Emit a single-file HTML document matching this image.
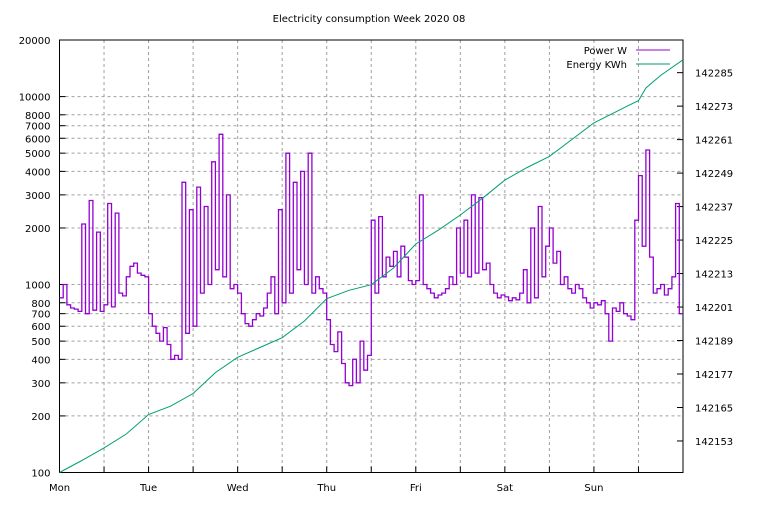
<!DOCTYPE html>
<html><head><meta charset="utf-8">
<style>
html,body{margin:0;padding:0;background:#fff;}
svg text{font-family:"DejaVu Sans","Liberation Sans",sans-serif;font-size:10px;fill:#000;}
</style></head>
<body>
<svg id="chart" width="768" height="500" viewBox="0 0 768 500" xmlns="http://www.w3.org/2000/svg">
<text x="369" y="22" text-anchor="middle">Electricity consumption Week 2020 08</text>
<g id="grid"></g>
<g id="axes"></g>
<g id="series"></g>
<g>
<text x="627" y="54" text-anchor="end">Power W</text>
<line x1="636" y1="50" x2="670" y2="50" stroke="#9400d3" stroke-width="1"/>
<text x="627" y="68" text-anchor="end">Energy KWh</text>
<line x1="636" y1="64" x2="670" y2="64" stroke="#009e73" stroke-width="1"/>
</g>
</svg>
<script>
const dayLabels = ["Mon","Tue","Wed","Thu","Fri","Sat","Sun"];
const leftTicks = [100,200,300,400,500,600,700,800,1000,2000,3000,4000,5000,6000,7000,8000,10000,20000];
const rightTicks = [142153,142165,142177,142189,142201,142213,142225,142237,142249,142261,142273,142285];
// hourly power (W), 7 days x 24
const powerW = [
850,1000,780,750,740,720,2100,700,2800,730,1900,720,780,2700,760,2400,900,870,1100,1250,1300,1150,1120,1100,
700,600,550,500,590,480,400,420,400,3500,550,2500,600,3300,900,2600,1000,4500,1200,6300,1100,3000,950,1000,
900,700,620,600,650,700,680,750,900,1100,700,2500,800,5000,900,3500,1200,4000,1000,5000,900,1100,950,900,
650,480,440,560,380,300,290,400,300,500,350,420,2200,900,2300,1100,1400,1250,1500,1100,1600,1400,1050,1000,
1050,3000,1000,950,900,850,880,900,950,1100,1000,2000,1150,2200,1100,3000,1150,2900,1200,1300,1000,900,850,880,
860,820,850,830,900,1200,800,2000,850,2600,1100,1600,2000,1300,1500,1000,1100,950,900,1000,950,850,800,750,
800,780,820,700,500,750,720,800,700,680,650,2200,3800,1600,5200,1400,900,950,1000,880,950,1100,2700,700
];
// energy meter readings
const energyHours = [0,6,12,18,24,30,36,42,48,54,60,66,72,78,84,90,96,102,108,114,120,126,132,138,144,150,153,156,158,162,168];
const energyKWh = [142141.7,142146,142150.5,142155.5,142162.5,142165.5,142170,142177.5,142183,142186.5,142190,142196,142204,142207,142209,142215,142223.6,142228.5,142234,142240,142246.5,142251,142255,142261,142267,142271,142273,142275,142279.5,142284,142289.6];

const X0=59.5,X1=683,Y0=472.5,Y1=40;
const xS = h => X0 + h/168*(X1-X0);
const yL = v => Y0 - (Math.log10(v)-2)/Math.log10(200)*(Y0-Y1);
const eMin=142141.7,eMax=142296.7;
const yR = v => Y0 - (v-eMin)/(eMax-eMin)*(Y0-Y1);
const NS="http://www.w3.org/2000/svg";
function mk(tag,attrs,parent){const e=document.createElementNS(NS,tag);for(const k in attrs)e.setAttribute(k,attrs[k]);parent.appendChild(e);return e;}
const grid=document.getElementById('grid'),axes=document.getElementById('axes'),series=document.getElementById('series');
for(let i=1;i<14;i++){const x=xS(i*12);
 const l=mk('line',{x1:x,y1:Y1,x2:x,y2:Y0,stroke:'#a0a0a0','stroke-dasharray':'3,3','stroke-width':1},grid);
 
 
 const t=mk('line',{x1:x,y1:Y0,x2:x,y2:Y0-6,stroke:'#000'},axes);
 
 
}
leftTicks.forEach(v=>{const y=yL(v);
 if(v!==100&&v!==20000){const l=mk('line',{x1:X0,y1:y,x2:X1,y2:y,stroke:'#a0a0a0','stroke-dasharray':'3,3','stroke-width':1},grid);
 
 }
 const t=mk('line',{x1:X0,y1:y,x2:X0+6,y2:y,stroke:'#000'},axes);
 
 
 const tx=mk('text',{x:X0-9,y:y+4,'text-anchor':'end'},axes);tx.textContent=v;
 
 
});
rightTicks.forEach(v=>{const y=yR(v);
 const t=mk('line',{x1:X1-6,y1:y,x2:X1,y2:y,stroke:'#000'},axes);
 
 
 const tx=mk('text',{x:695,y:y+4},axes);tx.textContent=v;
 
 
});
dayLabels.forEach((d,i)=>{const tx=mk('text',{x:xS(i*24),y:491,'text-anchor':'middle'},axes);tx.textContent=d;
 
 });
const fr=mk('rect',{x:X0,y:Y1,width:X1-X0,height:Y0-Y1,fill:'none',stroke:'#000'},axes);


let d='';powerW.forEach((v,i)=>{const y=yL(v).toFixed(1);d+=(i?'L':'M')+xS(i).toFixed(1)+','+y+'L'+xS(i+1).toFixed(1)+','+y;});
const p=mk('path',{d:d,fill:'none',stroke:'#9400d3','stroke-width':1.3},series);


let d2='';energyKWh.forEach((v,i)=>{d2+=(i?'L':'M')+xS(energyHours[i]).toFixed(1)+','+yR(v).toFixed(1);});
const e=mk('path',{d:d2,fill:'none',stroke:'#009e73','stroke-width':1},series);


</script>
</body></html>
